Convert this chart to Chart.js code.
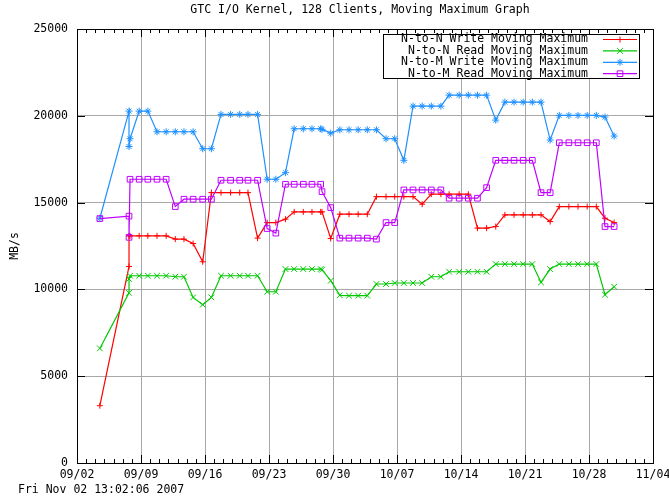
<!DOCTYPE html>
<html>
<head>
<meta charset="utf-8">
<script src="https://cdn.jsdelivr.net/npm/chart.js@4.4.0/dist/chart.umd.min.js"></script>
<style>
html, body { margin: 0; padding: 0; background: #fff; }
</style>
</head>
<body>
<canvas id="gtc" width="669" height="499"></canvas>
<script>
// sample times, in days since 09/02 00:00
var days = [2.5, 5.69, 5.69, 5.8,
    6.8, 7.75, 8.75, 9.75, 10.75, 11.7, 12.7, 13.75, 14.7, 15.75,
    16.8, 17.8, 18.7, 19.75, 20.8, 21.75, 22.8, 23.75, 24.75, 25.7,
    26.65, 26.8, 27.75, 28.75, 29.75, 30.75, 31.75, 32.75, 33.8, 34.75,
    35.75, 36.75, 37.75, 38.75, 39.8, 40.7, 41.8, 42.8, 43.8, 44.8,
    45.8, 46.8, 47.8, 48.8, 49.8, 50.75, 51.75, 52.75, 53.8, 54.8,
    55.8, 56.8, 57.75, 58.75];

var nnWrite = [3300, 11320, 13086, 13086,
    13086, 13086, 13086, 13086, 12896, 12896, 12643, 11592, 15574, 15574,
    15574, 15574, 15574, 12953, 13850, 13850, 14045, 14465, 14465, 14465,
    14465, 14465, 12930, 14333, 14333, 14333, 14333, 15345, 15345, 15345,
    15345, 15345, 14908, 15483, 15483, 15483, 15483, 15483, 13528, 13528,
    13620, 14293, 14293, 14293, 14293, 14293, 13908, 14770, 14770, 14770,
    14770, 14770, 14103, 13850];

var nnRead = [6600, 9800, 10600, 10787,
    10787, 10787, 10787, 10787, 10730, 10730, 9540, 9120, 9540, 10787,
    10787, 10787, 10787, 10787, 9866, 9866, 11172, 11172, 11172, 11172,
    11172, 11132, 10500, 9660, 9638, 9638, 9638, 10310, 10310, 10368,
    10368, 10368, 10368, 10730, 10730, 11017, 11017, 11017, 11017, 11017,
    11460, 11460, 11460, 11460, 11460, 10402, 11172, 11460, 11460, 11460,
    11460, 11460, 9695, 10155];

var nmWrite = [14100, 20270, 18230, 18678,
    20270, 20270, 19080, 19080, 19080, 19080, 19080, 18103, 18103, 20080,
    20080, 20080, 20080, 20080, 16345, 16345, 16724, 19253, 19253, 19253,
    19253, 19220, 19000, 19195, 19195, 19195, 19195, 19195, 18678, 18678,
    17436, 20557, 20557, 20557, 20557, 21189, 21189, 21189, 21189, 21189,
    19752, 20787, 20787, 20787, 20787, 20787, 18603, 20023, 20023, 20023,
    20023, 20023, 19925, 18833];

var nmRead = [14080, 14220, 13000, 16345,
    16345, 16345, 16345, 16345, 14770, 15195, 15195, 15195, 15195, 16287,
    16287, 16287, 16287, 16287, 13505, 13241, 16057, 16057, 16057, 16057,
    16057, 15630, 14712, 12953, 12953, 12953, 12953, 12896, 13850, 13850,
    15730, 15730, 15730, 15730, 15730, 15253, 15253, 15253, 15253, 15862,
    17436, 17436, 17436, 17436, 17436, 15574, 15574, 18448, 18448, 18448,
    18448, 18448, 13620, 13620];

var seriesNames = ['N-to-N Write Moving Maximum', 'N-to-N Read Moving Maximum',
    'N-to-M Write Moving Maximum', 'N-to-M Read Moving Maximum'];

var chartTitle = 'GTC I/O Kernel, 128 Clients, Moving Maximum Graph';
var stampText = 'Fri Nov 02 13:02:06 2007';
var yTitle = 'MB/s';

var mono = '"DejaVu Sans Mono", "Liberation Mono", monospace';
var fontSize = 11.5;

function dayLabel(v) {
    var d = new Date(2007, 8, 2 + v);
    var m = d.getMonth() + 1, dd = d.getDate();
    return (m < 10 ? '0' : '') + m + '/' + (dd < 10 ? '0' : '') + dd;
}

function pts(vals) {
    return vals.map(function (v, i) { return { x: days[i], y: v }; });
}

var styles = [
    { color: '#ff0000', point: 'cross', r: 3 },
    { color: '#00c800', point: 'crossRot', r: 4 },
    { color: '#1e90ff', point: 'star', r: 3.5 },
    { color: '#c000ff', point: 'rect', r: 4 }
];
var allSeries = [nnWrite, nnRead, nmWrite, nmRead];

var datasets = allSeries.map(function (vals, i) {
    var s = styles[i];
    return {
        label: seriesNames[i],
        data: pts(vals),
        borderColor: s.color,
        borderWidth: 1.2,
        tension: 0,
        fill: false,
        pointStyle: s.point,
        pointRadius: s.r,
        pointBorderColor: s.color,
        pointBackgroundColor: 'rgba(0,0,0,0)',
        pointBorderWidth: 1,
        order: 4 - i
    };
});

// border, inward tick marks
var gnuFrame = {
    id: 'gnuFrame',
    beforeDatasetsDraw: function (chart) {
        var ctx = chart.ctx, a = chart.chartArea;
        var xs = chart.scales.x, ys = chart.scales.y;
        ctx.save();
        ctx.strokeStyle = '#000';
        ctx.lineWidth = 1;
        ctx.beginPath();
        for (var d = 0; d <= 63; d++) {
            var x = Math.round(xs.getPixelForValue(d)) + 0.5;
            var len = d % 7 === 0 ? 8 : 4;
            ctx.moveTo(x, a.bottom); ctx.lineTo(x, a.bottom - len);
            ctx.moveTo(x, a.top); ctx.lineTo(x, a.top + len);
        }
        for (var v = 0; v <= 25000; v += 5000) {
            var y = Math.round(ys.getPixelForValue(v)) + 0.5;
            ctx.moveTo(a.left, y); ctx.lineTo(a.left + 8, y);
            ctx.moveTo(a.right, y); ctx.lineTo(a.right - 8, y);
        }
        ctx.stroke();
        ctx.strokeRect(Math.round(a.left) + 0.5, Math.round(a.top) + 0.5,
            Math.round(a.right - a.left), Math.round(a.bottom - a.top));
        ctx.restore();
    },
    afterDraw: function (chart) {
        var ctx = chart.ctx;
        ctx.save();
        ctx.font = fontSize + 'px ' + mono;
        ctx.fillStyle = '#000';
        ctx.textBaseline = 'middle';
        ctx.textAlign = 'center';
        ctx.fillText(chartTitle, 360, 10);
        ctx.textAlign = 'left';
        ctx.fillText(stampText, 18, 490);
        ctx.save();
        ctx.translate(15, 246);
        ctx.rotate(-Math.PI / 2);
        ctx.textAlign = 'center';
        ctx.fillText(yTitle, 0, 0);
        ctx.restore();

        // key box
        var bx = 383, by = 34, bw = 256, bh = 44;
        ctx.fillStyle = '#fff';
        ctx.fillRect(bx, by, bw, bh);
        ctx.strokeStyle = '#000';
        ctx.lineWidth = 1;
        ctx.strokeRect(bx + 0.5, by + 0.5, bw, bh);
        for (var i = 0; i < 4; i++) {
            var ry = 39.5 + i * 11.4;
            ctx.fillStyle = '#000';
            ctx.textAlign = 'right';
            ctx.fillText(seriesNames[i], 588, ry);
            var s = styles[i];
            ctx.strokeStyle = s.color;
            ctx.lineWidth = 1.2;
            ctx.beginPath();
            ctx.moveTo(603, ry); ctx.lineTo(637, ry);
            ctx.stroke();
            ctx.lineWidth = 1;
            ctx.fillStyle = 'rgba(0,0,0,0)';
            Chart.helpers.drawPoint(ctx, { pointStyle: s.point, radius: s.r, rotation: 0, borderWidth: 1 }, 620, ry);
        }
        ctx.restore();
    }
};

var tickFont = { family: mono, size: fontSize };

var gtc = new Chart(document.getElementById('gtc').getContext('2d'), {
    type: 'line',
    data: { datasets: datasets },
    options: {
        responsive: false,
        animation: false,
        layout: { padding: { top: 29, right: 16, left: 0, bottom: 0 } },
        plugins: { legend: { display: false }, tooltip: { enabled: false } },
        scales: {
            x: {
                type: 'linear',
                min: 0,
                max: 63,
                ticks: {
                    stepSize: 7, autoSkip: false, maxRotation: 0, padding: 5,
                    color: '#000', font: tickFont, callback: dayLabel
                },
                grid: { color: '#a8a8a8', lineWidth: 1, drawTicks: false },
                border: { display: false },
                afterFit: function (s) { s.height = 36; s.paddingLeft = 0; s.paddingRight = 0; }
            },
            y: {
                min: 0,
                max: 25000,
                ticks: {
                    stepSize: 5000, padding: 9, color: '#000', font: tickFont,
                    callback: function (v) { return String(v); }
                },
                grid: { color: '#a8a8a8', lineWidth: 1, drawTicks: false },
                border: { display: false },
                afterFit: function (s) { s.width = 77; s.paddingTop = 0; s.paddingBottom = 0; }
            }
        }
    },
    plugins: [gnuFrame]
});
</script>
</body>
</html>
